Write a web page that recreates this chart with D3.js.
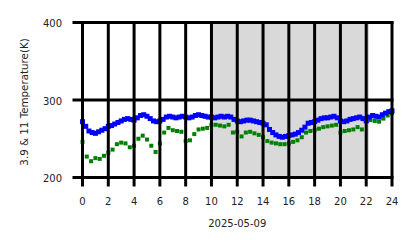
<!DOCTYPE html>
<html><head><meta charset="utf-8">
<script src="https://cdn.jsdelivr.net/npm/d3@7"></script>
<style>body{margin:0;background:#fff}svg{display:block}text{font-family:"DejaVu Sans",sans-serif;fill:#222}</style>
</head><body><svg id="c" width="418" height="248"></svg>
<script>
const xTicks = [0,2,4,6,8,10,12,14,16,18,20,22,24];
const yTicks = [200,300,400];
const dateLabel = "2025-05-09";
const yTitle = "3.9 & 11 Temperature(K)";
const nightSpan = [10.05, 22.15];
// 3.9 µm series, every 15 min from 00:00 to 24:00
const blueStep = 0.25;
const blueVals = [272,266,260,258,257,259,261,263,266,267,269,271,273,275,276,275,274,277,280,281,279,276,273,272,273,275,278,279,278,277,278,279,278,277,278,280,281,280,279,278,278,277,278,279,278,279,278,275,273,272,273,274,274,273,272,271,270,268,262,258,255,253,252,253,254,255,256,258,261,265,270,271,272,274,276,277,277,278,279,277,273,272,273,275,276,277,278,276,273,278,280,279,278,281,283,285,286];
// 11 µm series, every 20 min
const greenStep = 1/3;
const greenVals = [246,227,221,225,224,228,232,236,243,245,244,239,241,250,254,249,241,233,244,258,264,261,260,259,247,248,256,262,263,264,268,268,267,266,268,258,259,253,258,259,257,255,252,247,245,244,243,243,244,246,248,252,258,260,261,263,265,266,267,268,258,260,261,262,265,262,274,274,273,272,276,280,283];

const svg = d3.select("#c");
const L = 82.5, R = 392, T = 22.5, B = 177.5;
const x = d3.scaleLinear().domain([0,24]).range([L,R]);
const y = d3.scaleLinear().domain([200,400]).range([B,T]);

svg.append("rect").attr("x", x(nightSpan[0])).attr("y", T).attr("width", x(nightSpan[1]) - x(nightSpan[0])).attr("height", B - T)
  .attr("fill", "#d9d9d9").attr("stroke", "#c4c4c4").attr("stroke-width", 1);

const blue = blueVals.map((v,i)=>({h:i*blueStep, v}));
const green = greenVals.map((v,i)=>({h:i*greenStep, v}));

const bs = 5, gs = 4;
svg.append("g").selectAll("rect").data(green).join("rect")
  .attr("x", d=>x(d.h)-gs/2).attr("y", d=>y(d.v)-gs/2).attr("width", gs).attr("height", gs).attr("fill", "#008000");
svg.append("g").selectAll("rect").data(blue).join("rect")
  .attr("x", d=>x(d.h)-bs/2).attr("y", d=>y(d.v)-bs/2).attr("width", bs).attr("height", bs).attr("fill", "#0000ff");

const g = svg.append("g").attr("stroke", "#000").attr("stroke-width", 3).attr("stroke-linecap", "butt");
g.selectAll(".v").data(xTicks).join("line").attr("x1", d=>x(d)).attr("x2", d=>x(d)).attr("y1", T-1.5).attr("y2", B+9);
g.selectAll(".h").data(yTicks).join("line").attr("y1", d=>y(d)).attr("y2", d=>y(d)).attr("x1", L-10).attr("x2", R+1.5);

svg.append("g").selectAll("text").data(xTicks).join("text")
  .attr("x", d=>x(d)).attr("y", 201).attr("dy", "0.35em").attr("text-anchor", "middle").attr("font-size", 10).text(d=>d);
svg.append("g").selectAll("text").data(yTicks).join("text")
  .attr("x", 62).attr("y", d=>y(d)+1).attr("dy", "0.35em").attr("text-anchor", "end").attr("font-size", 10).text(d=>d);
svg.append("text").attr("x", (L+R)/2).attr("y", 223).attr("dy", "0.35em").attr("text-anchor", "middle").attr("font-size", 10).text(dateLabel);
svg.append("text").attr("transform", `translate(24,${(T+B)/2+2}) rotate(-90)`).attr("dy", "0.35em").attr("text-anchor", "middle").attr("font-size", 10.3).text(yTitle);
</script></body></html>
